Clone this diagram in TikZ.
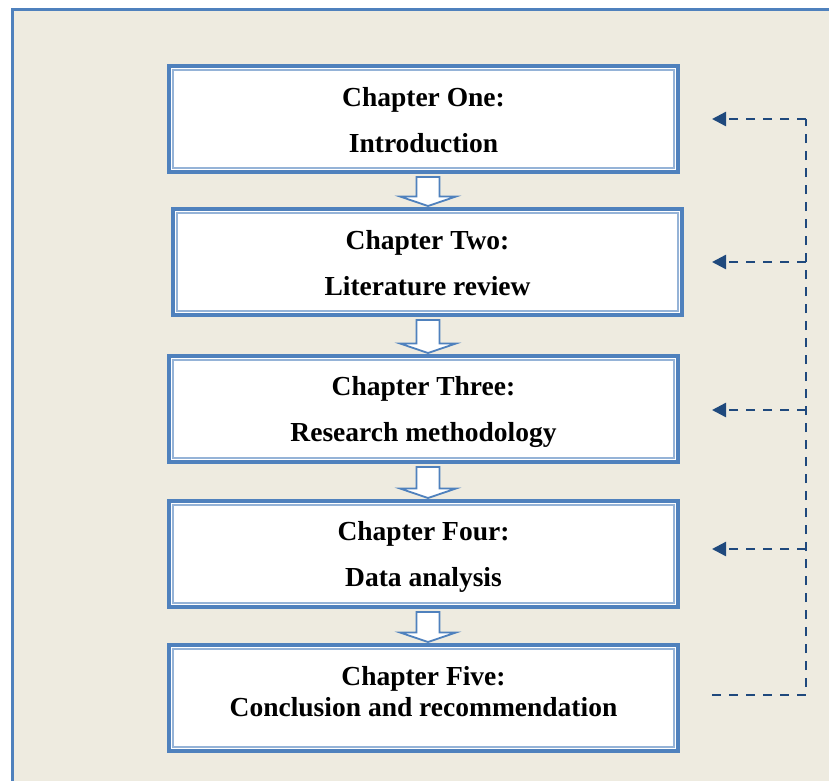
\documentclass[tikz,border=0pt]{standalone}
\usepackage{fontspec}
\setmainfont{Liberation Serif}
\usetikzlibrary{arrows.meta,calc}
\definecolor{frameblue}{HTML}{4F81BD}
\definecolor{lightblue}{HTML}{95B3D7}
\definecolor{darkblue}{HTML}{1F497D}
\definecolor{paper}{HTML}{EEEBE0}
\begin{document}
\begin{tikzpicture}[x=1pt,y=-1pt,
  chapbox/.style={draw=frameblue, line width=4pt, fill=white, minimum width=509pt, minimum height=106pt, inner sep=0pt, outer sep=0pt},
  innerline/.style={draw=lightblue, line width=1.6pt},
  chaptext/.style={font=\fontsize{27.5}{33}\selectfont\bfseries, align=center, inner sep=0pt},
  blockarrow/.style={draw=frameblue, line width=1.8pt, fill=white, line join=miter},
  feedback/.style={draw=darkblue, line width=2.4pt, dash pattern=on 9pt off 8pt},
  fbarrow/.style={feedback, -{Triangle[length=14pt,width=14pt]}}
]
\useasboundingbox (0,0) rectangle (829,780);
\clip (0,0) rectangle (829,780);
\fill[white] (0,0) rectangle (829,780);
\draw[draw=frameblue, line width=3pt, fill=paper] (12,9) rectangle (850,800);

% chapter boxes
\node[chapbox] (b1) at (423.5,119) {};
\node[chapbox] (b2) at (427.5,262) {};
\node[chapbox] (b3) at (423.5,409) {};
\node[chapbox] (b4) at (423.5,554) {};
\node[chapbox] (b5) at (423.5,698) {};
\foreach \b in {b1,b2,b3,b4,b5}
  \draw[innerline] ([shift={(3.8,3.8)}]\b.north west) rectangle ([shift={(-3.8,-3.8)}]\b.south east);

% texts
\node[chaptext] (t1) at ([yshift=-1pt]b1.center) {Chapter One:\\[13pt]Introduction};
\node[chaptext] (t2) at ([yshift=-1pt]b2.center) {Chapter Two:\\[13pt]Literature review};
\node[chaptext] (t3) at ([yshift=-3pt]b3.center) {Chapter Three:\\[13pt]Research methodology};
\node[chaptext] (t4) at ([yshift=-3pt]b4.center) {Chapter Four:\\[13pt]Data analysis};
\node[chaptext] (t5) at ([yshift=6pt]b5.center) {Chapter Five:\\[-2pt]Conclusion and recommendation};

% block arrows between boxes
\foreach \u/\l in {b1/b2,b2/b3,b3/b4,b4/b5}
  \draw[blockarrow] let \p1=(\u.south), \p2=(\l.north) in
    ({416.5pt},{\y1-5pt}) -- ({439.5pt},{\y1-5pt}) -- ({439.5pt},{\y2+12.5pt}) --
    ({456pt},{\y2+12.5pt}) -- ({428pt},{\y2+3pt}) -- ({400pt},{\y2+12.5pt}) --
    ({416.5pt},{\y2+12.5pt}) -- cycle;

% feedback connectors
\coordinate (c1) at (806,119);
\coordinate (c2) at (806,262);
\coordinate (c3) at (806,410);
\coordinate (c4) at (806,549);
\coordinate (c5) at (806,695);
\coordinate (a1) at (712,119);
\coordinate (a2) at (712,262);
\coordinate (a3) at (712,410);
\coordinate (a4) at (712,549);
\coordinate (e5) at (712,695);
\draw[feedback] (e5) -- (c5) -- (c1);
\draw[fbarrow] (c1) -- (a1);
\draw[fbarrow] (c2) -- (a2);
\draw[fbarrow] (c3) -- (a3);
\draw[fbarrow] (c4) -- (a4);
\end{tikzpicture}
\end{document}
